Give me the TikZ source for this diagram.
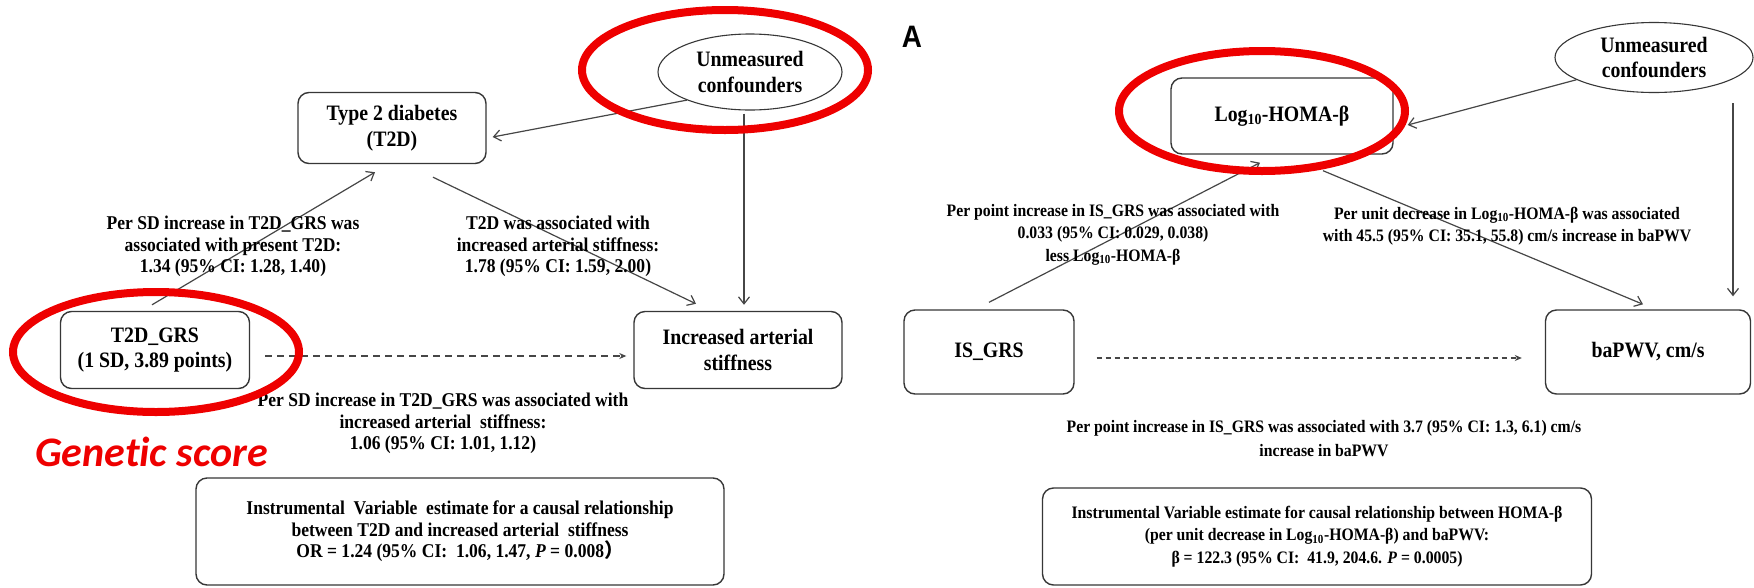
\documentclass[tikz,border=0pt]{standalone}
\usepackage{fontspec}
\setmainfont{Liberation Serif}[FakeStretch=0.9]
\newfontfamily\calibfont{Carlito}[Ligatures={NoCommon}]
\newfontfamily\panelsans{Liberation Sans}[FakeStretch=0.9]
\newfontfamily\cjkfont{Noto Sans CJK SC}
\usetikzlibrary{arrows.meta,shapes.geometric}
\definecolor{ringred}{RGB}{238,0,0}
\definecolor{edgegray}{RGB}{55,55,55}
\definecolor{linegray}{RGB}{70,70,70}
\newcommand\myNodeFont{\bfseries\fontsize{22}{25.5}\selectfont}
\newcommand\myLblL{\bfseries\fontsize{19.5}{21.5}\selectfont}
\newcommand\myLblR{\bfseries\fontsize{17.5}{22.5}\selectfont}
\newcommand\myBoxR{\bfseries\fontsize{17.5}{22.5}\selectfont}
\begin{document}
\begin{tikzpicture}[x=1pt,y=1pt,
  box/.style={draw=edgegray, line width=1.4pt, rounded corners=11pt, align=center, font=\myNodeFont, inner sep=0pt, text=black},
  ell/.style={draw=edgegray, line width=1.1pt, ellipse, align=center, font=\myNodeFont, inner sep=0pt},
  conn/.style={draw=linegray, line width=1.2pt, -{Straight Barb[length=7pt,width=11pt]}},
  dashone/.style={draw=linegray, line width=1.4pt, dash pattern=on 7pt off 5pt, -{Stealth[length=7pt,width=6pt]}},
  dashtwo/.style={draw=linegray, line width=1.4pt, dash pattern=on 5pt off 4pt, -{Stealth[length=7pt,width=6pt]}},
  lblL/.style={align=center, font=\myLblL, inner sep=0pt},
  lblR/.style={align=center, font=\myLblR, inner sep=0pt},
  ring/.style={draw=ringred, line width=8pt}
]
\fill[white] (0,0) rectangle (1754,-587);
\useasboundingbox (0,0) rectangle (1754,-587);

% ---------- left panel ----------
\node[ell, minimum width=184, minimum height=76] (unc1) at (750,-72) {Unmeasured\\confounders};
\node[box, minimum width=188, minimum height=71] (t2d) at (392,-128) {Type 2 diabetes\\(T2D)};
\node[box, minimum width=189, minimum height=77] (grs1) at (155,-350) {T2D\_GRS\\(1 SD, 3.89 points)};
\node[box, minimum width=208, minimum height=77] (ias) at (738,-350) {Increased arterial\\stiffness};

\draw[conn] (unc1.204) -- ([shift={(6,-9)}]t2d.east);
\draw[conn] ([shift={(-6,-3)}]unc1.south) -- ([shift={(6,6)}]ias.north);
\draw[conn] ([shift={(-3,6)}]grs1.north) -- ([shift={(-17,-8)}]t2d.south);
\draw[conn] ([shift={(41,-13)}]t2d.south) -- ([shift={(-42,7)}]ias.north);
\draw[dashone] ([shift={(15,-6)}]grs1.east) -- ([shift={(-7,-6)}]ias.west);

\node[lblL] (l1) at (233,-246.5) {Per SD increase in T2D\_GRS was\\associated with present T2D:\\1.34 (95\% CI: 1.28, 1.40)};
\node[lblL] (l2) at (558,-246.5) {T2D was associated with\\increased arterial stiffness:\\1.78 (95\% CI: 1.59, 2.00)};
\node[lblL] (l3) at (443,-423.5) {Per SD increase in T2D\_GRS was associated with\\increased arterial\ \ stiffness:\\1.06 (95\% CI: 1.01, 1.12)};

\node[box, minimum width=528, minimum height=107, font=\myLblL] (iv1) at (460,-531.5)
  {Instrumental\ \ Variable\ \ estimate for a causal relationship\\between T2D and increased arterial\ \ stiffness\\OR = 1.24 (95\% CI:\ \ 1.06, 1.47, \textit{P} = 0.008{\cjkfont ）}};

\node[anchor=base west, inner sep=0pt, text=ringred, font=\calibfont\bfseries\itshape\fontsize{42}{46}\selectfont] (gs) at (35,-466) {Genetic score};

% ---------- right panel ----------
\node[inner sep=0pt, font=\panelsans\bfseries\fontsize{31}{33}\selectfont] (pa) at (912,-37) {A};
\node[ell, minimum width=198, minimum height=70] (unc2) at (1654,-57.5) {Unmeasured\\confounders};
\node[box, minimum width=222, minimum height=76] (homa) at (1282,-116) {Log\textsubscript{10}-HOMA-β};
\node[box, minimum width=170, minimum height=84] (isgrs) at (989,-352) {IS\_GRS};
\node[box, minimum width=205, minimum height=84] (bapwv) at (1648,-352) {baPWV, cm/s};

\draw[conn] (unc2.196) -- ([shift={(14,-9)}]homa.east);
\draw[conn] ([shift={(79,-10)}]unc2.south) -- ([shift={(85,13)}]bapwv.north);
\draw[conn] ([shift={(0,7)}]isgrs.north) -- ([shift={(-22,-8)}]homa.south);
\draw[conn] ([shift={(41,-16)}]homa.south) -- ([shift={(-5,5)}]bapwv.north);
\draw[dashtwo] ([shift={(22,-6)}]isgrs.east) -- ([shift={(-23,-6)}]bapwv.west);

\node[lblR] (r1) at (1113,-234.5) {Per point increase in IS\_GRS was associated with\\0.033 (95\% CI: 0.029, 0.038)\\less Log\textsubscript{10}-HOMA-β};
\node[lblR] (r2) at (1507,-226) {Per unit decrease in Log\textsubscript{10}-HOMA-β was associated\\with 45.5 (95\% CI: 35.1, 55.8) cm/s increase in baPWV};
\node[lblR, font=\bfseries\fontsize{17.5}{24}\selectfont] (r3) at (1324,-439) {Per point increase in IS\_GRS was associated with 3.7 (95\% CI: 1.3, 6.1) cm/s\\increase in baPWV};

\node[box, minimum width=549, minimum height=97, font=\myBoxR] (iv2) at (1317,-536.5)
  {Instrumental Variable estimate for causal relationship between HOMA-β\\(per unit decrease in Log\textsubscript{10}-HOMA-β) and baPWV:\\β = 122.3 (95\% CI:\ \ 41.9, 204.6. \textit{P} = 0.0005)};

% ---------- red highlight rings ----------
\draw[ring] (156,-352) ellipse [x radius=143, y radius=60];
\draw[ring] (725,-70) ellipse [x radius=143, y radius=60];
\draw[ring] (1262,-111) ellipse [x radius=143, y radius=60];
\end{tikzpicture}
\end{document}
